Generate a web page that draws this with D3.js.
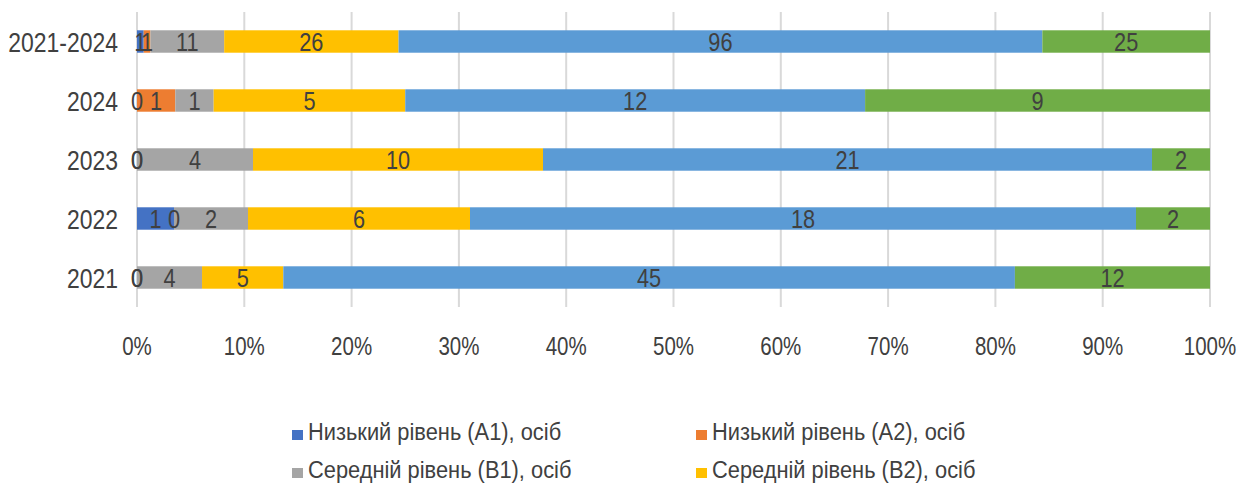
<!DOCTYPE html>
<html>
<head>
<meta charset="utf-8">
<script src="https://cdn.jsdelivr.net/npm/d3@7"></script>
<style>
  html, body { margin: 0; padding: 0; background: #fff; overflow: hidden; }
  svg text { font-family: "Liberation Sans", Arial, sans-serif; fill: #404040; }
</style>
</head>
<body>
<svg id="chart" width="1239" height="484"></svg>
<script>
// categories, bottom to top as drawn
const categories = ["2021", "2022", "2023", "2024", "2021-2024"];

const seriesNames = [
  "Низький рівень (А1), осіб",
  "Низький рівень (А2), осіб",
  "Середній рівень (В1), осіб",
  "Середній рівень (В2), осіб",
  "Високий рівень (С1), осіб",
  "Високий рівень (С2), осіб"
];
const seriesColors = ["#4472C4", "#ED7D31", "#A5A5A5", "#FFC000", "#5B9BD5", "#70AD47"];

// values per category, same order as categories
const a1 = [0, 1, 0, 0, 1];
const a2 = [0, 0, 0, 1, 1];
const b1 = [4, 2, 4, 1, 11];
const b2 = [5, 6, 10, 5, 26];
const c1 = [45, 18, 21, 12, 96];
const c2 = [12, 2, 2, 9, 25];
const seriesValues = [a1, a2, b1, b2, c1, c2];

const xTicks = [0, 0.1, 0.2, 0.3, 0.4, 0.5, 0.6, 0.7, 0.8, 0.9, 1];

// only the first two legend rows fit inside the picture
const legendShown = 4;

// no narrow font installed, so squeeze the text horizontally
const squeeze = 0.82;
const legendSqueeze = 0.91;

const svg = d3.select("#chart");
const plot = { left: 137, right: 1210, top: 12, bottom: 307 };

const x = d3.scaleLinear().domain([0, 1]).range([plot.left, plot.right]);
const y = d3.scaleBand()
  .domain(categories.slice().reverse())
  .range([plot.top, plot.bottom])
  .paddingInner(0.62)
  .paddingOuter(0.31);

function place(sel, fx, fy, s = squeeze) {
  return sel.attr("transform", (d, i) => `translate(${fx(d, i)},${fy(d, i)}) scale(${s},1)`);
}

// gridlines
svg.append("g")
  .selectAll("line")
  .data(xTicks)
  .join("line")
  .attr("x1", d => x(d)).attr("x2", d => x(d))
  .attr("y1", plot.top).attr("y2", plot.bottom)
  .attr("stroke", "#d9d9d9")
  .attr("stroke-width", 2);

// x tick labels
svg.append("g")
  .selectAll("text")
  .data(xTicks)
  .join("text")
  .call(place, d => x(d), () => 355)
  .attr("text-anchor", "middle")
  .attr("font-size", "25px")
  .text(d => d3.format(".0%")(d));

// category labels
svg.append("g")
  .selectAll("text")
  .data(categories)
  .join("text")
  .call(place, () => 118, d => y(d) + y.bandwidth() / 2 + 10)
  .attr("text-anchor", "end")
  .attr("font-size", "28px")
  .text(d => d);

// build stacked proportions
const rows = categories.map((c, i) => {
  const total = d3.sum(seriesValues, s => s[i]);
  let acc = 0;
  return seriesValues.map((s, k) => {
    const seg = { cat: c, k, v: s[i], x0: acc / total, x1: (acc + s[i]) / total };
    acc += s[i];
    return seg;
  });
});
const segs = rows.flat();

svg.append("g")
  .selectAll("rect")
  .data(segs)
  .join("rect")
  .attr("x", d => x(d.x0))
  .attr("width", d => x(d.x1) - x(d.x0))
  .attr("y", d => y(d.cat))
  .attr("height", y.bandwidth())
  .attr("fill", d => seriesColors[d.k]);

// data labels
svg.append("g")
  .selectAll("text")
  .data(segs)
  .join("text")
  .call(place, d => x((d.x0 + d.x1) / 2), d => y(d.cat) + y.bandwidth() / 2 + 9.5)
  .attr("text-anchor", "middle")
  .attr("font-size", "26.5px")
  .text(d => d.v);

// legend, two columns
const leg = svg.append("g")
  .selectAll("g")
  .data(seriesNames.slice(0, legendShown))
  .join("g")
  .attr("transform", (d, i) => `translate(${i % 2 ? 696 : 292}, ${440 + Math.floor(i / 2) * 38})`);
leg.append("rect")
  .attr("x", 0).attr("y", -10)
  .attr("width", 11).attr("height", 10)
  .attr("fill", (d, i) => seriesColors[i]);
leg.append("text")
  .call(place, () => 16, () => 0, legendSqueeze)
  .attr("font-size", "24px")
  .text(d => d);
</script>
</body>
</html>
